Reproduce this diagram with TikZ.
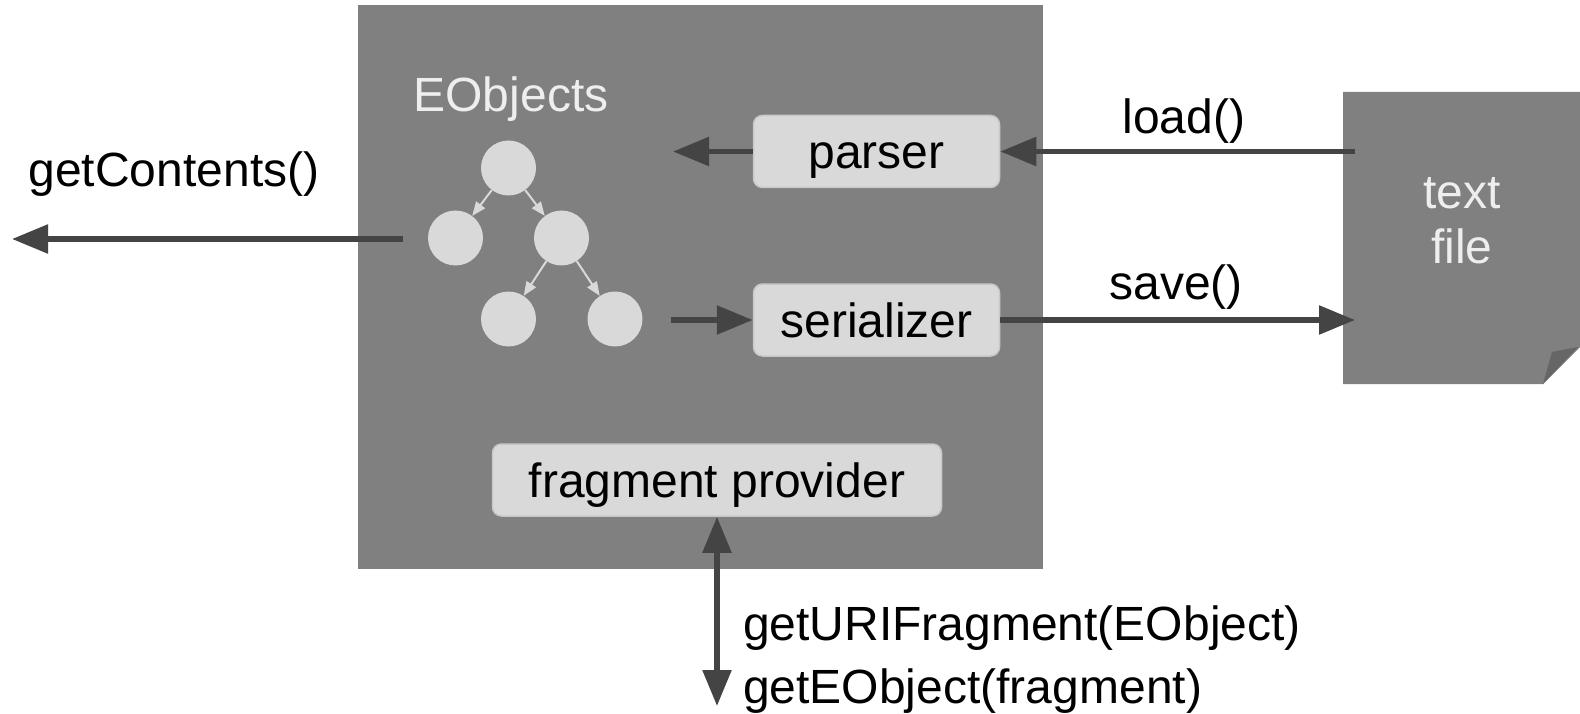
\documentclass[tikz,border=0pt]{standalone}
\usepackage{fontspec}
\setmainfont{Liberation Sans}
\usetikzlibrary{arrows.meta}
\definecolor{panel}{HTML}{808080}
\definecolor{boxfill}{HTML}{D9D9D9}
\definecolor{boxline}{HTML}{C8C8C8}
\definecolor{ink}{HTML}{444444}
\definecolor{light}{HTML}{EEEEEE}
\definecolor{flap}{HTML}{666666}
\begin{document}
\begin{tikzpicture}[x=1pt,y=-1pt,
  every node/.style={font=\fontsize{48}{55.4}\selectfont, inner sep=0pt},
  procbox/.style={draw=boxline, line width=1.5pt, fill=boxfill, rounded corners=9pt, text=black,
    text height=35pt, text depth=0pt},
  obj/.style={circle, fill=boxfill, minimum size=55pt},
  link/.style={draw=boxfill, line width=2pt, -{Triangle[length=14pt,width=11pt]}},
  flow/.style={draw=ink, line width=5.5pt, -{Triangle[length=36pt,width=28pt]}},
  biflow/.style={draw=ink, line width=5.5pt, {Triangle[length=36pt,width=28pt]}-{Triangle[length=36pt,width=28pt]}}
]
\useasboundingbox (0,0) rectangle (1580,714);
\fill[white] (0,0) rectangle (1580,714);

% resource panel
\fill[panel] (358,5) rectangle (1043,569);
\node[text=light] (eobj) at (511,99) {EObjects};

% object tree
\node[obj] (root) at (508.5,168) {};
\node[obj] (left) at (455.5,238) {};
\node[obj] (mid) at (561.5,238) {};
\node[obj] (bl) at (508.5,319) {};
\node[obj] (br) at (615,319) {};
\draw[link] (root) -- (left);
\draw[link] (root) -- (mid);
\draw[link] (mid) -- (bl);
\draw[link] (mid) -- (br);

% processing boxes
\node[procbox, minimum width=246pt, minimum height=72pt] (parser) at (876.5,151.5) {parser};
\node[procbox, minimum width=246pt, minimum height=72pt] (serializer) at (876.5,320) {serializer};
\node[procbox, minimum width=449pt, minimum height=72pt] (fragment) at (717,480) {fragment provider};

% text file
\fill[panel] (1343,92) -- (1580,92) -- (1580,347) -- (1543,384) -- (1343,384) -- cycle;
\fill[flap] (1543,384) -- (1552,352) -- (1578,347) -- cycle;
\node[text=light, align=center] (file) at (1462,221) {text\\file};

% connector end points
\coordinate (contentsFrom) at (403,239);
\coordinate (contentsTo) at (12,239);
\coordinate (parsedTo) at (673,151.5);
\coordinate (serialFrom) at (671,320);
\coordinate (loadFrom) at (1355,151.5);
\coordinate (saveTo) at (1355,320);
\coordinate (fragTo) at (717,706);

% connectors
\draw[flow] (contentsFrom) -- (contentsTo);
\draw[flow] (parser.west) -- (parsedTo);
\draw[flow] (serialFrom) -- (serializer.west);
\draw[flow] (loadFrom) -- (parser.east);
\draw[flow] (serializer.east) -- (saveTo);
\draw[biflow] (fragment.south) -- (fragTo);

% labels
\node (getc) at (174,174) {getContents()};
\node (load) at (1184,121) {load()};
\node (save) at (1176,287) {save()};
\node[anchor=west] (geturi) at (743,628) {getURIFragment(EObject)};
\node[anchor=west] (geteo) at (743,691) {getEObject(fragment)};
\end{tikzpicture}
\end{document}
